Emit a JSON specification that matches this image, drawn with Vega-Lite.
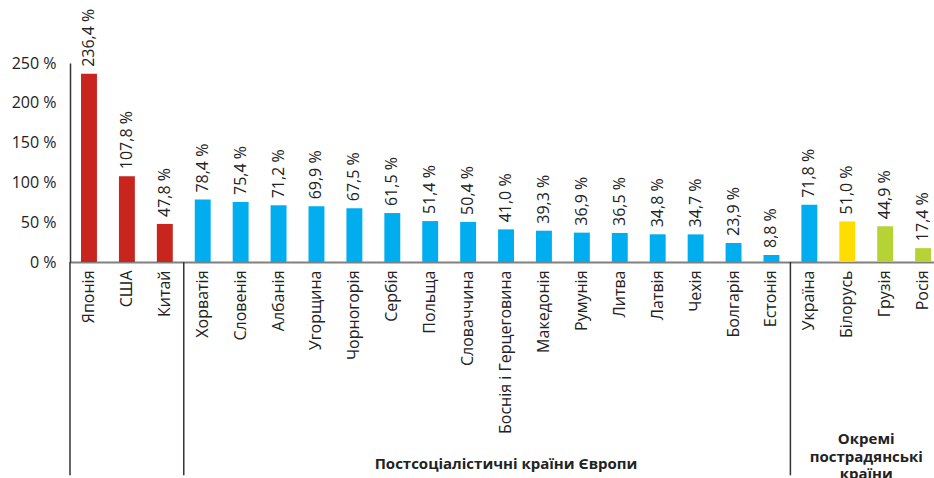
{
  "$schema": "https://vega.github.io/schema/vega-lite/v6.json",
  "width": 864,
  "height": 199,
  "autosize": {"type": "none"},
  "padding": {"left": 70, "top": 63, "right": 0, "bottom": 216},
  "config": {
    "view": {"stroke": null},
    "font": "Open Sans",
    "text": {"font": "Open Sans"},
    "axisY": {
      "title": null, "ticks": false, "grid": false, "domainColor": "#333", "domainWidth": 1.5, "labelOverlap": false,
      "labelPadding": 14, "labelFontSize": 16, "labelColor": "#222", "labelFont": "Open Sans"
    },
    "axisX": {
      "title": null, "labelAngle": -90, "labelAlign": "right", "labelBaseline": "middle",
      "labelPadding": 8, "ticks": false, "labelFontSize": 16, "labelColor": "#222",
      "labelFont": "Open Sans", "domainColor": "#808080", "domainWidth": 2, "labelOverlap": false
    }
  },
  "datasets": {
    "bars": [
      {"country": "Японія", "v": 236.4, "cat": "Світові економіки"},
      {"country": "США", "v": 107.8, "cat": "Світові економіки"},
      {"country": "Китай", "v": 47.8, "cat": "Світові економіки"},
      {"country": "Хорватія", "v": 78.4, "cat": "Європа"},
      {"country": "Словенія", "v": 75.4, "cat": "Європа"},
      {"country": "Албанія", "v": 71.2, "cat": "Європа"},
      {"country": "Угорщина", "v": 69.9, "cat": "Європа"},
      {"country": "Чорногорія", "v": 67.5, "cat": "Європа"},
      {"country": "Сербія", "v": 61.5, "cat": "Європа"},
      {"country": "Польща", "v": 51.4, "cat": "Європа"},
      {"country": "Словаччина", "v": 50.4, "cat": "Європа"},
      {"country": "Боснія і Герцеговина", "v": 41.0, "cat": "Європа"},
      {"country": "Македонія", "v": 39.3, "cat": "Європа"},
      {"country": "Румунія", "v": 36.9, "cat": "Європа"},
      {"country": "Литва", "v": 36.5, "cat": "Європа"},
      {"country": "Латвія", "v": 34.8, "cat": "Європа"},
      {"country": "Чехія", "v": 34.7, "cat": "Європа"},
      {"country": "Болгарія", "v": 23.9, "cat": "Європа"},
      {"country": "Естонія", "v": 8.8, "cat": "Європа"},
      {"country": "Україна", "v": 71.8, "cat": "Україна"},
      {"country": "Білорусь", "v": 51.0, "cat": "Білорусь"},
      {"country": "Грузія", "v": 44.9, "cat": "Інші пострадянські"},
      {"country": "Росія", "v": 17.4, "cat": "Інші пострадянські"}
    ],
    "separators": [
      {"after": "Китай"},
      {"after": "Естонія"}
    ],
    "group1": [
      {"anchor": "Боснія і Герцеговина", "label": "Постсоціалістичні країни Європи"}
    ],
    "group2": [
      {"anchor": "Білорусь", "label": ["Окремі", "пострадянські", "країни"]}
    ]
  },
  "layer": [
    {
      "data": {"name": "bars"},
      "mark": {"type": "bar"},
      "encoding": {
        "x": {
          "field": "country", "type": "nominal", "sort": null,
          "scale": {
            "domain": ["Японія", "США", "Китай", "Хорватія", "Словенія", "Албанія", "Угорщина", "Чорногорія", "Сербія", "Польща", "Словаччина", "Боснія і Герцеговина", "Македонія", "Румунія", "Литва", "Латвія", "Чехія", "Болгарія", "Естонія", "Україна", "Білорусь", "Грузія", "Росія"],
            "paddingInner": 0.58, "paddingOuter": 0.184, "align": 0.79
          }
        },
        "y": {
          "field": "v", "type": "quantitative",
          "scale": {"domain": [0, 250], "nice": false},
          "axis": {"values": [0, 50, 100, 150, 200, 250], "labelExpr": "datum.value + ' %'"}
        },
        "color": {
          "field": "cat", "type": "nominal", "legend": null,
          "scale": {
            "domain": ["Світові економіки", "Європа", "Україна", "Білорусь", "Інші пострадянські"],
            "range": ["#C8251E", "#00AEEF", "#00AEEF", "#FFDD00", "#B5D335"]
          }
        }
      }
    },
    {
      "data": {"name": "bars"},
      "transform": [
        {"calculate": "replace(format(datum.v, '.1f'), '.', ',') + ' %'", "as": "txt"}
      ],
      "mark": {"type": "text", "angle": 270, "align": "left", "baseline": "middle", "dx": 7, "fontSize": 16, "fill": "#222"},
      "encoding": {
        "x": {"field": "country", "type": "nominal", "sort": null},
        "y": {"field": "v", "type": "quantitative", "axis": {"values": [0, 50, 100, 150, 200, 250], "labelExpr": "datum.value + ' %'"}},
        "text": {"field": "txt"}
      }
    },
    {
      "data": {"name": "separators"},
      "mark": {"type": "rule", "stroke": "#333", "strokeWidth": 1.5},
      "encoding": {
        "x": {"field": "after", "type": "nominal", "bandPosition": 1.69},
        "y": {"datum": 0, "axis": {"values": [0, 50, 100, 150, 200, 250], "labelExpr": "datum.value + ' %'"}},
        "y2": {"datum": -268}
      }
    },
    {
      "data": {"values": [{}]},
      "mark": {"type": "rule", "stroke": "#333", "strokeWidth": 1.5},
      "encoding": {
        "x": {"value": 0},
        "y": {"datum": 0, "axis": {"values": [0, 50, 100, 150, 200, 250], "labelExpr": "datum.value + ' %'"}},
        "y2": {"datum": -268}
      }
    },
    {
      "data": {"name": "group1"},
      "mark": {"type": "text", "fontWeight": "bold", "fontSize": 15, "baseline": "alphabetic", "align": "center", "fill": "#222"},
      "encoding": {
        "x": {"field": "anchor", "type": "nominal"},
        "y": {"datum": -260, "axis": {"values": [0, 50, 100, 150, 200, 250], "labelExpr": "datum.value + ' %'"}},
        "text": {"field": "label"}
      }
    },
    {
      "data": {"name": "group2"},
      "mark": {"type": "text", "fontWeight": "bold", "fontSize": 15, "baseline": "alphabetic", "align": "center", "lineHeight": 17.5, "dx": 19, "fill": "#222"},
      "encoding": {
        "x": {"field": "anchor", "type": "nominal"},
        "y": {"datum": -229, "axis": {"values": [0, 50, 100, 150, 200, 250], "labelExpr": "datum.value + ' %'"}},
        "text": {"field": "label"}
      }
    }
  ]
}
